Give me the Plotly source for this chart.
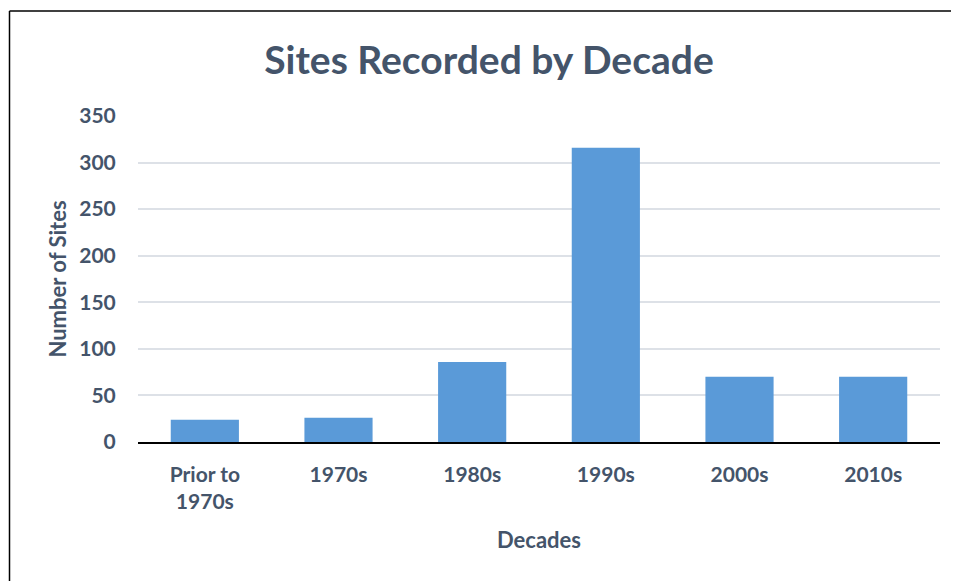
import plotly.graph_objects as go

categories = ["Prior to<br>1970s", "1970s", "1980s", "1990s", "2000s", "2010s"]
sites = [24, 26, 86, 316, 70, 70]
y_ticks = [0, 50, 100, 150, 200, 250, 300, 350]

text_color = "#44546A"
font_family = "Lato, Open Sans, sans-serif"

fig = go.Figure(
    go.Bar(
        x=categories,
        y=sites,
        marker=dict(color="#5A9AD8", line=dict(width=0)),
        width=0.51,
    )
)

# the page body adds an 8px offset; figure coords = screen coords - 8
OFF = 8
W, H = 959 - OFF, 582 - OFF
L, T = 138 - OFF, 116 - OFF
R = W - (940 - OFF)
B = H - (442 - OFF)
pw, ph = W - L - R, H - T - B

def px_to_paper_x(px):
    return (px - OFF - L) / pw

def py_to_paper_y(py):
    return (H - B - (py - OFF)) / ph

border = dict(color="black", width=1.5)

fig.update_layout(
    width=W,
    height=H,
    margin=dict(l=L, r=R, t=T, b=B),
    paper_bgcolor="white",
    plot_bgcolor="white",
    showlegend=False,
    font=dict(family=font_family, color=text_color, size=21),
    title=dict(
        text="<b>Sites Recorded by Decade</b>",
        x=(489 - OFF) / W,
        xanchor="center",
        y=1 - (60 - OFF) / H,
        yanchor="middle",
        font=dict(size=39, color=text_color, family=font_family),
    ),
    xaxis=dict(
        tickfont=dict(size=21, color=text_color),
        showline=True,
        linecolor="black",
        linewidth=1.5,
        ticks="outside",
        ticklen=13,
        tickcolor="rgba(0,0,0,0)",
        showgrid=False,
        title=dict(text="<b>Decades</b>", font=dict(size=22, color=text_color), standoff=20),
        tickprefix="<b>",
        ticksuffix="</b>",
    ),
    yaxis=dict(
        range=[0, 350],
        tickvals=y_ticks,
        ticktext=[f"<b>{v}</b>" for v in y_ticks],
        tickfont=dict(size=21, color=text_color),
        showgrid=True,
        gridcolor="#DDE1E7",
        gridwidth=1.5,
        zeroline=False,
        ticks="outside",
        ticklen=17,
        tickcolor="rgba(0,0,0,0)",
        title=dict(text="<b>Number of Sites</b>", font=dict(size=22, color=text_color), standoff=6),
    ),
    shapes=[
        dict(
            type="line", xref="paper", yref="paper",
            x0=px_to_paper_x(9.5), x1=px_to_paper_x(958),
            y0=py_to_paper_y(11), y1=py_to_paper_y(11),
            line=border, layer="above",
        ),
        dict(
            type="line", xref="paper", yref="paper",
            x0=px_to_paper_x(9.5), x1=px_to_paper_x(9.5),
            y0=py_to_paper_y(11), y1=py_to_paper_y(581),
            line=border, layer="above",
        ),
    ],
)

fig.write_html("out.html")
